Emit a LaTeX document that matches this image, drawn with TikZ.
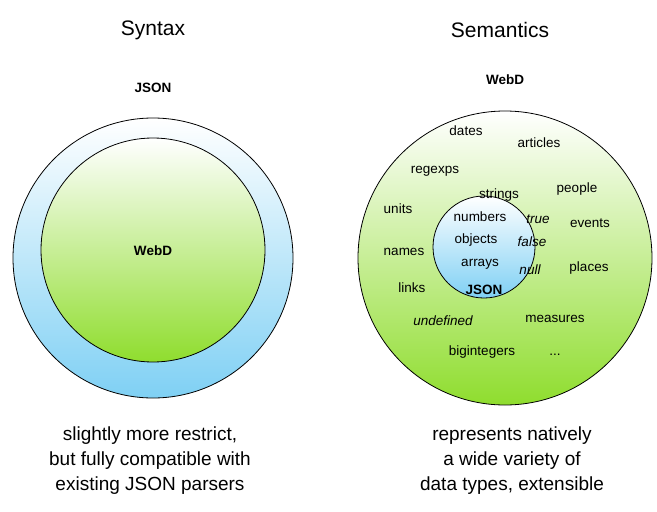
\documentclass[tikz,border=0pt]{standalone}
\usepackage{fontspec}
\setmainfont{Liberation Sans}
\begin{document}
\begin{tikzpicture}[x=1pt,y=-1pt,
  t/.style={font=\fontsize{13.5}{15}\selectfont,inner sep=0pt},
  ti/.style={t,font=\fontsize{13.5}{15}\selectfont\itshape},
  tb/.style={t,font=\fontsize{13.5}{15}\selectfont\bfseries},
  head/.style={font=\fontsize{21}{24}\selectfont,inner sep=0pt},
  bcap/.style={font=\fontsize{19}{25}\selectfont,align=center,inner sep=0pt}]
\useasboundingbox (0,0) rectangle (657,512);
\definecolor{blu}{HTML}{7FD0F4}
\definecolor{grn}{HTML}{8FDD2E}
% left
\shade[top color=white,bottom color=blu,draw=black,line width=0.8pt] (153,258) circle (140);
\shade[top color=white,bottom color=grn,draw=black,line width=0.8pt] (153,250) circle (112);
% right
\shade[top color=white,bottom color=grn,draw=black,line width=0.8pt] (505,258) circle (147);
\shade[top color=white,bottom color=blu,draw=black,line width=0.8pt] (484,247) circle (51);
\node[head] (h1) at (153,30) {Syntax};
\node[head] (h2) at (500,30) {Semantics};
\node[tb] (j1) at (153,88) {JSON};
\node[tb] (w1) at (153,251) {WebD};
\node[tb] (w2) at (505,80) {WebD};
\node[t] (a1) at (466,131) {dates};
\node[t] (a2) at (539,143) {articles};
\node[t] (a3) at (435,171) {regexps};
\node[t] (a4) at (577,189) {people};
\node[t] (a5) at (398,209) {units};
\node[t] (a6) at (590,223) {events};
\node[t] (a7) at (404,252) {names};
\node[t] (a8) at (589,268) {places};
\node[t] (a9) at (412,288) {links};
\node[ti] (a10) at (443,321) {undefined};
\node[t] (a11) at (555,319) {measures};
\node[t] (a12) at (482,352) {bigintegers};
\node[t] (a13) at (555,355) {...};
\node[t] (b1) at (499,195) {strings};
\node[t] (b2) at (480,217) {numbers};
\node[ti] (b3) at (538,219) {true};
\node[t] (b4) at (476,240) {objects};
\node[ti] (b5) at (532,242) {false};
\node[t] (b6) at (480,264) {arrays};
\node[ti] (b7) at (530,270) {null};
\node[tb] (j2) at (484,290) {JSON};
\node[bcap] (c1) at (150,461) {slightly more restrict,\\but fully compatible with\\existing JSON parsers};
\node[bcap] (c2) at (512,461) {represents natively\\a wide variety of\\data types, extensible};
\end{tikzpicture}
\end{document}
